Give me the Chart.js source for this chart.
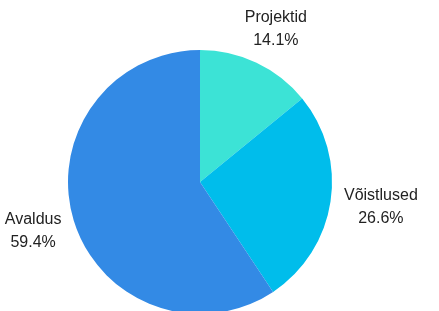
<!DOCTYPE html>
<html>
<head>
<meta charset="utf-8">
<script src="https://cdn.jsdelivr.net/npm/chart.js@4"></script>
<style>
  html, body { margin: 0; padding: 0; background: #fff; overflow: hidden; }
  #wrap { position: absolute; left: 0; top: 0; width: 439px; height: 364px; }
</style>
</head>
<body>
<div id="wrap"><canvas id="pieChart"></canvas></div>
<script>
const categories = ['Projektid', 'Võistlused', 'Avaldus'];
const shares = [14.1, 26.6, 59.4];
const colors = ['#3ce3d6', '#00bdeb', '#338ae5'];

// labels sit outside the pie, name on top, percent below
const outsideLabels = {
  id: 'outsideLabels',
  afterDraw(chart) {
    const ctx = chart.ctx;
    const meta = chart.getDatasetMeta(0);
    const lineH = 23;
    ctx.save();
    ctx.font = '16px "Liberation Sans", Arial, sans-serif';
    ctx.fillStyle = '#222';
    ctx.textAlign = 'center';
    ctx.textBaseline = 'middle';
    meta.data.forEach((arc, i) => {
      const mid = (arc.startAngle + arc.endAngle) / 2;
      const top = categories[i];
      const bottom = shares[i].toFixed(1) + '%';
      const w = Math.max(ctx.measureText(top).width, ctx.measureText(bottom).width);
      const h = lineH * 2;
      const dist = arc.outerRadius + 14;
      // push the label box outward by half its size along the angle
      const x = arc.x + Math.cos(mid) * dist + Math.cos(mid) * w / 2;
      const y = arc.y + Math.sin(mid) * dist + Math.sin(mid) * h / 2;
      ctx.fillText(top, x, y - lineH / 2);
      ctx.fillText(bottom, x, y + lineH / 2);
    });
    ctx.restore();
  }
};

new Chart(document.getElementById('pieChart'), {
  type: 'pie',
  data: {
    labels: categories,
    datasets: [{ data: shares, backgroundColor: colors, borderWidth: 0 }],
  },
  options: {
    responsive: true,
    maintainAspectRatio: false,
    animation: false,
    layout: { padding: { left: 68, right: 107, top: 50, bottom: 50 } },
    plugins: { legend: { display: false }, tooltip: { enabled: false } },
  },
  plugins: [outsideLabels],
});
</script>
</body>
</html>
